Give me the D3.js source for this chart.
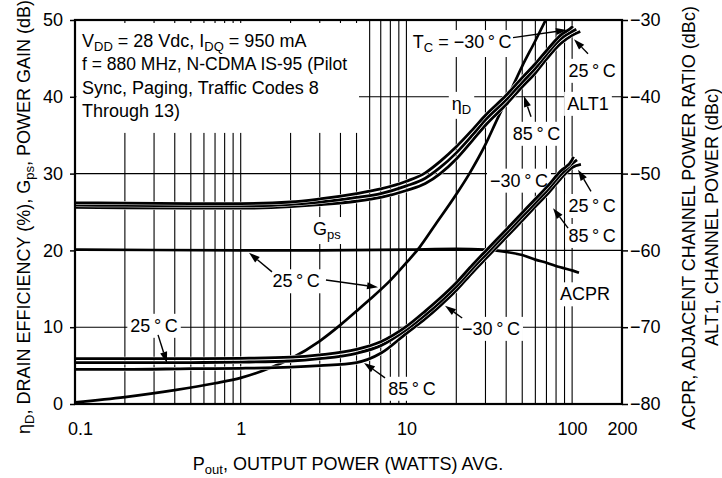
<!DOCTYPE html>
<html>
<head>
<meta charset="utf-8">
<script src="https://cdn.jsdelivr.net/npm/d3@7"></script>
<style>
body { margin: 0; background: #fff; }
svg text { font-family: "Liberation Sans Narrow", "Arial Narrow", "Liberation Sans", Arial, sans-serif; fill: #000; }
</style>
</head>
<body>
<svg width="722" height="478"></svg>
<script>
var svg = d3.select('svg');

// plot box
var plotL = 75, plotR = 622, plotT = 20, plotB = 404;
var fs = 18;

// tick labels
var xTickVals = [0.1, 1, 10, 100, 200];
var leftTicks = [0, 10, 20, 30, 40, 50];
var rightTicks = [-80, -70, -60, -50, -40, -30];

// output power grid (W) shared by the ACPR / ALT1 curves
var pGrid = [0.1, 0.2, 0.5, 1, 2, 3, 5, 7, 10, 13, 16, 20, 25, 30, 40, 50, 60, 70, 85, 100];

// ALT1 channel power (dBc), Tc = -30, 25, 85 C
var alt1Minus30 = [-53.8, -53.85, -53.9, -53.9, -53.7, -53.3, -52.6, -52.0, -51.0, -49.9, -48.4, -46.5, -44.3, -42.4, -39.8, -37.5, -35.7, -34.0, -32.0, -30.9];
var alt1Plus25  = [-54.1, -54.15, -54.2, -54.2, -54.0, -53.7, -53.1, -52.6, -51.6, -50.6, -49.2, -47.3, -45.0, -43.0, -40.4, -38.1, -36.3, -34.5, -32.5, -31.5];
var alt1Plus85  = [-54.4, -54.45, -54.5, -54.5, -54.3, -54.05, -53.6, -53.1, -52.2, -51.3, -50.0, -48.1, -45.7, -43.7, -41.0, -38.7, -36.9, -35.1, -33.1, -32.0];
var alt1TailP = [101, 106, 112];
var alt1TailV = [-30.8, -31.2, -31.5];

// ACPR (dBc), Tc = -30, 25, 85 C
var acprMinus30 = [-74.1, -74.1, -74.1, -74.05, -73.9, -73.6, -72.9, -71.9, -69.9, -67.9, -66.2, -64.2, -61.9, -60.1, -57.3, -55.1, -53.3, -51.8, -49.7, -48.2];
var acprPlus25  = [-74.6, -74.6, -74.6, -74.55, -74.4, -74.1, -73.4, -72.4, -70.3, -68.4, -66.7, -64.7, -62.4, -60.6, -57.8, -55.6, -53.8, -52.3, -50.2, -48.7];
var acprPlus85  = [-75.5, -75.5, -75.4, -75.35, -75.2, -75.0, -74.6, -73.4, -70.8, -68.9, -67.2, -65.2, -62.9, -61.1, -58.3, -56.1, -54.3, -52.8, -50.7, -49.2];
var acprTailP = [102, 107, 113];
var acprTailV = [-47.8, -48.2, -48.8];

// drain efficiency (%), 25 C
var effP = [0.1, 0.2, 0.4, 0.7, 1, 1.5, 2, 3, 4, 5, 6, 8, 10, 12, 15, 20, 24, 30, 35, 41, 50, 60, 70];
var effV = [0.2, 0.9, 1.8, 2.7, 3.4, 4.7, 5.9, 8.2, 10.3, 12.1, 13.6, 16.1, 18.4, 20.4, 23.4, 27.3, 30.0, 33.8, 36.9, 40.0, 44.0, 47.3, 50.2];

// power gain (dB), 25 C
var gainP = [0.1, 0.3, 1, 3, 10, 20, 30, 40, 50, 60, 70, 85, 100, 110];
var gainV = [20.1, 20.05, 20.0, 20.0, 20.1, 20.2, 20.1, 19.8, 19.4, 18.8, 18.4, 17.8, 17.4, 17.1];

var deg = '\u2009\u00b0\u2009C';

// annotations: text parts ([string, isSubscript]), power (W), left-axis value, anchor
var labels = [
	[[['T', 0], ['C', 1], [' = \u221230' + deg, 0]], 21.7, 46.35, 'middle'],
	[[['25' + deg, 0]], 132, 42.6, 'middle'],
	[[['ALT1', 0]], 124.7, 38.3, 'middle'],
	[[['\u03b7', 0], ['D', 1]], 21.5, 38.3, 'middle'],
	[[['85' + deg, 0]], 61, 34.4, 'middle'],
	[[['\u221230' + deg, 0]], 47.8, 28.3, 'middle'],
	[[['25' + deg, 0]], 132, 25.0, 'middle'],
	[[['85' + deg, 0]], 132, 21.1, 'middle'],
	[[['ACPR', 0]], 119.6, 13.5, 'middle'],
	[[['G', 0], ['ps', 1]], 2.73, 22.0, 'start'],
	[[['25' + deg, 0]], 2.16, 15.2, 'middle'],
	[[['25' + deg, 0]], 0.30, 9.4, 'middle'],
	[[['\u221230' + deg, 0]], 32.4, 9.0, 'middle'],
	[[['85' + deg, 0]], 10.8, 1.2, 'middle']
];

// arrows: [fromP, fromV, toP, toV]
var arrows = [
	[44.0, 47.7, 93.1, 48.7],
	[124.7, 45.6, 102.6, 47.5],
	[56.5, 37.4, 51.2, 40.1],
	[130, 27.7, 108.6, 30.5],
	[94.5, 22.9, 76.7, 25.5],
	[1.545, 17.2, 1.122, 19.7],
	[3.27, 16.15, 6.74, 15.2],
	[0.317, 9.0, 0.359, 5.35],
	[21.7, 11.2, 17.1, 12.8],
	[7.43, 3.4, 5.55, 5.35]
];

var condLines = [
	[['V', 0], ['DD', 1], [' = 28 Vdc, I', 0], ['DQ', 1], [' = 950 mA', 0]],
	[['f = 880 MHz, N-CDMA IS-95 (Pilot', 0]],
	[['Sync, Paging, Traffic Codes 8', 0]],
	[['Through 13)', 0]]
];

var x = d3.scaleLog().domain([0.1, 200]).range([plotL, plotR]);
var y = d3.scaleLinear().domain([0, 50]).range([plotB, plotT]);
var yR = d3.scaleLinear().domain([-80, -30]).range([plotB, plotT]);

var gGrid = svg.append('g');
var gBg = svg.append('g');
var gCurves = svg.append('g');
var gFrame = svg.append('g');
var gText = svg.append('g');
var gArrow = svg.append('g');

svg.append('clipPath').attr('id', 'plotclip')
	.append('rect').attr('x', plotL).attr('y', plotT).attr('width', plotR - plotL).attr('height', plotB - plotT);

//Grid
gGrid.selectAll('line.v')
	.data(x.ticks().filter(function(d) { return d > 0.1001 && d < 199; }))
	.enter().append('line')
	.attr('x1', function(d) { return x(d); }).attr('x2', function(d) { return x(d); })
	.attr('y1', plotT).attr('y2', plotB)
	.attr('stroke', '#000').attr('stroke-width', 1.1);
gGrid.selectAll('line.h')
	.data(leftTicks.filter(function(d) { return d > 0 && d < 50; }))
	.enter().append('line')
	.attr('x1', plotL).attr('x2', plotR)
	.attr('y1', function(d) { return y(d); }).attr('y2', function(d) { return y(d); })
	.attr('stroke', '#000').attr('stroke-width', 1.1);

//Curves
var line = d3.line()
	.x(function(d) { return x(d[0]); })
	.y(function(d) { return y(d[1]); })
	.curve(d3.curveMonotoneX);

function zipRight(ps, vs, tp, tv) {
	var pts = ps.map(function(p, i) { return [p, vs[i] + 80]; });
	pts.push([tp, tv + 80]);
	return pts;
}

var bundles = [
	zipRight(pGrid, alt1Plus85, alt1TailP[2], alt1TailV[2]),
	zipRight(pGrid, alt1Plus25, alt1TailP[1], alt1TailV[1]),
	zipRight(pGrid, alt1Minus30, alt1TailP[0], alt1TailV[0]),
	zipRight(pGrid, acprPlus85, acprTailP[2], acprTailV[2]),
	zipRight(pGrid, acprPlus25, acprTailP[1], acprTailV[1]),
	zipRight(pGrid, acprMinus30, acprTailP[0], acprTailV[0])
];

var curveG = gCurves.append('g').attr('clip-path', 'url(#plotclip)');
curveG.append('path')
	.attr('d', line(effP.map(function(p, i) { return [p, effV[i]]; })))
	.attr('fill', 'none').attr('stroke', '#000').attr('stroke-width', 2.7);
curveG.append('path')
	.attr('d', line(gainP.map(function(p, i) { return [p, gainV[i]]; })))
	.attr('fill', 'none').attr('stroke', '#000').attr('stroke-width', 2.7);
bundles.forEach(function(pts) {
	curveG.append('path').attr('d', line(pts))
		.attr('fill', 'none').attr('stroke', '#fff').attr('stroke-width', 3.8);
	curveG.append('path').attr('d', line(pts))
		.attr('fill', 'none').attr('stroke', '#000').attr('stroke-width', 2.8);
});

//Frame and axes
gFrame.append('rect')
	.attr('x', plotL).attr('y', plotT).attr('width', plotR - plotL).attr('height', plotB - plotT)
	.attr('fill', 'none').attr('stroke', '#000').attr('stroke-width', 2.2);

var axL = gFrame.append('g').attr('transform', 'translate(' + plotL + ',0)')
	.call(d3.axisLeft(y).tickValues(leftTicks).tickSize(5).tickPadding(7).tickFormat(d3.format('d')));
var axR = gFrame.append('g').attr('transform', 'translate(' + plotR + ',0)')
	.call(d3.axisRight(yR).tickValues(rightTicks).tickSize(6).tickPadding(2)
		.tickFormat(function(d) { return '\u2212' + Math.abs(d); }));
var axB = gFrame.append('g').attr('transform', 'translate(0,' + plotB + ')')
	.call(d3.axisBottom(x).tickValues(xTickVals).tickSize(0).tickPadding(18)
		.tickFormat(function(d) { return String(d); }));
[axL, axR, axB].forEach(function(a) {
	a.attr('font-family', null).attr('font-size', null);
	a.select('.domain').remove();
	a.selectAll('line').attr('stroke', '#000').attr('stroke-width', 1.5);
	a.selectAll('text').attr('font-size', fs).attr('fill', '#000');
});
axB.selectAll('text').attr('dx', function(d) { return d === 0.1 ? 5 : 0; });

//Rich text with subscripts
function rich(t, parts) {
	var shifted = false;
	parts.forEach(function(p) {
		var s = t.append('tspan').text(p[0]);
		if (p[1] && !shifted) { s.attr('dy', 4).attr('font-size', 13); shifted = true; }
		else if (p[1]) { s.attr('font-size', 13); }
		else if (shifted) { s.attr('dy', -4); shifted = false; }
	});
	return t;
}

function whiteBox(node, pad) {
	var b = node.getBBox();
	gBg.append('rect')
		.attr('x', b.x - pad).attr('y', b.y - pad + 1)
		.attr('width', b.width + 2 * pad).attr('height', b.height + 2 * pad - 2)
		.attr('fill', '#fff');
}

//Conditions block
var cond = gText.append('g');
condLines.forEach(function(parts, i) {
	var t = cond.append('text').attr('x', plotL + 7).attr('y', plotT + 27 + i * 23.3).attr('font-size', fs);
	rich(t, parts);
	if (i === 1) t.attr('textLength', 265).attr('lengthAdjust', 'spacingAndGlyphs');
});
var cb = cond.node().getBBox();
gBg.append('rect')
	.attr('x', plotL + 1.5).attr('y', plotT + 3)
	.attr('width', cb.x + cb.width + 12 - plotL - 1.5)
	.attr('height', cb.y + cb.height + 12 - plotT - 3)
	.attr('fill', '#fff');

//Curve labels
labels.forEach(function(l) {
	var t = gText.append('text')
		.attr('x', x(l[1])).attr('y', y(l[2]))
		.attr('text-anchor', l[3]).attr('font-size', fs);
	rich(t, l[0]);
	whiteBox(t.node(), 3);
});

//Arrows
arrows.forEach(function(a) {
	var x0 = x(a[0]), y0 = y(a[1]), x1 = x(a[2]), y1 = y(a[3]);
	var ang = Math.atan2(y1 - y0, x1 - x0), L = 11, W = 3.6;
	var bx = x1 - L * Math.cos(ang), by = y1 - L * Math.sin(ang);
	gArrow.append('line')
		.attr('x1', x0).attr('y1', y0).attr('x2', bx).attr('y2', by)
		.attr('stroke', '#000').attr('stroke-width', 1.4);
	gArrow.append('path')
		.attr('d', 'M' + x1 + ',' + y1 +
			'L' + (bx + W * Math.sin(ang)) + ',' + (by - W * Math.cos(ang)) +
			'L' + (bx - W * Math.sin(ang)) + ',' + (by + W * Math.cos(ang)) + 'Z')
		.attr('fill', '#000');
});

//Axis titles
rich(svg.append('text').attr('transform', 'translate(30,217) rotate(-90)')
	.attr('text-anchor', 'middle').attr('font-size', fs),
	[['\u03b7', 0], ['D', 1], [', DRAIN EFFICIENCY (%), G', 0], ['ps', 1], [', POWER GAIN (dB)', 0]]);
svg.append('text').attr('transform', 'translate(695,218) rotate(-90)')
	.attr('text-anchor', 'middle').attr('font-size', fs)
	.text('ACPR, ADJACENT CHANNEL POWER RATIO (dBc)');
svg.append('text').attr('transform', 'translate(718,217) rotate(-90)')
	.attr('text-anchor', 'middle').attr('font-size', fs)
	.text('ALT1, CHANNEL POWER (dBc)');
rich(svg.append('text').attr('x', 348).attr('y', 470)
	.attr('text-anchor', 'middle').attr('font-size', fs),
	[['P', 0], ['out', 1], [', OUTPUT POWER (WATTS) AVG.', 0]]);
</script>
</body>
</html>
